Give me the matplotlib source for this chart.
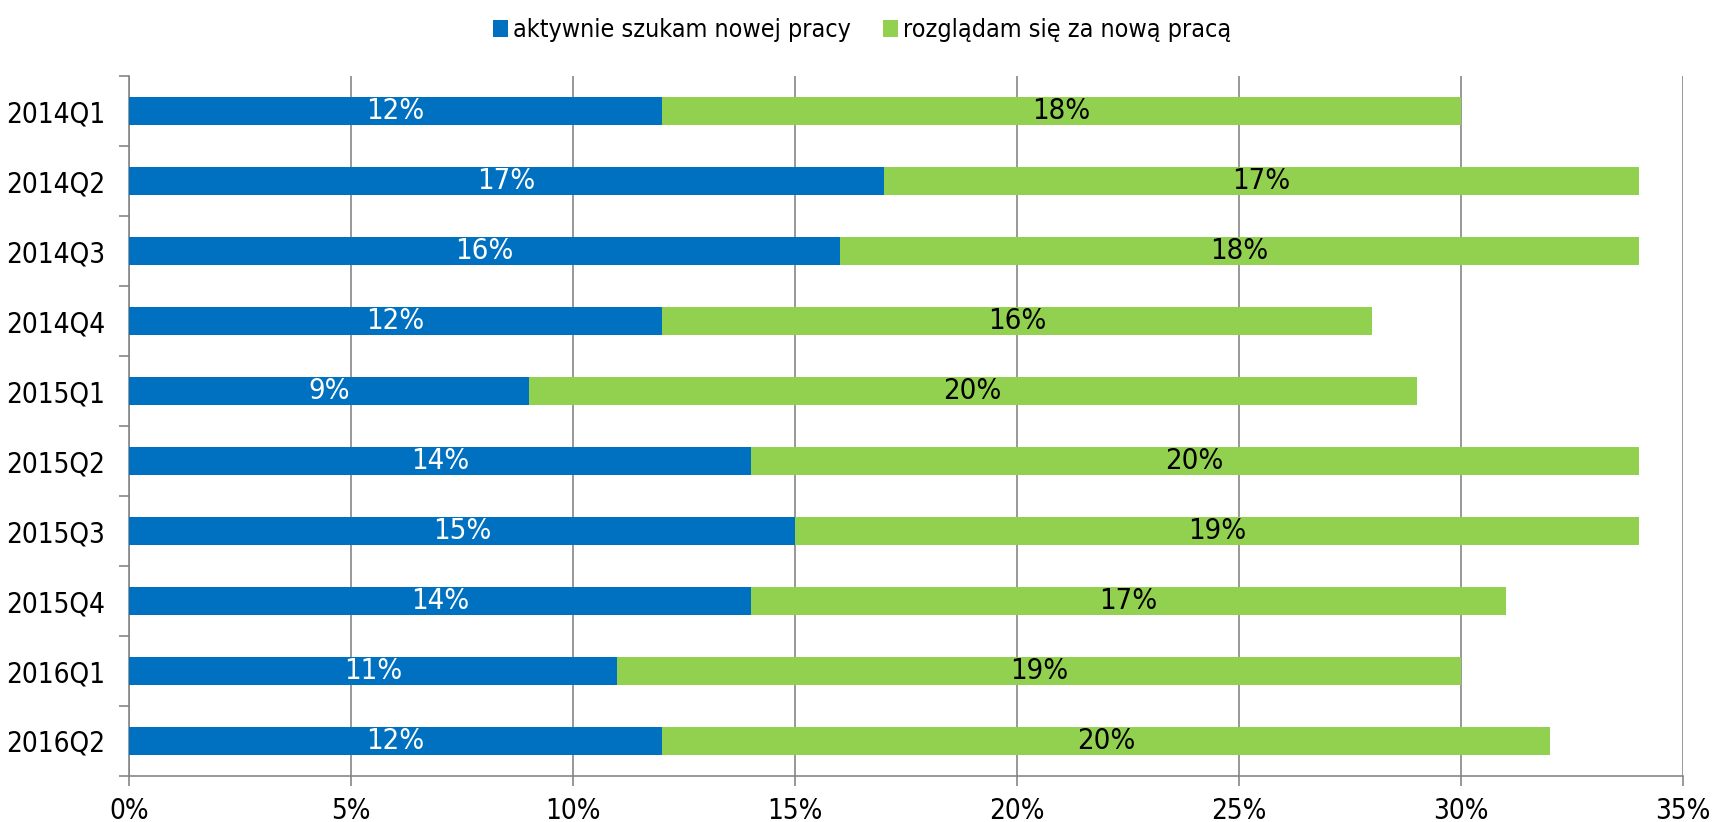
import matplotlib
matplotlib.use('Agg')
import matplotlib.pyplot as plt
import numpy as np
from matplotlib.ticker import PercentFormatter, FixedLocator

# Data
quarters = ['2014Q1', '2014Q2', '2014Q3', '2014Q4', '2015Q1',
            '2015Q2', '2015Q3', '2015Q4', '2016Q1', '2016Q2']
active = [12, 17, 16, 12, 9, 14, 15, 14, 11, 12]
looking = [18, 17, 18, 16, 20, 20, 19, 17, 19, 20]
series_names = ['aktywnie szukam nowej pracy', 'rozglądam się za nową pracą']

blue = '#0070C0'
green = '#92D050'
grid_c = '#868686'

plt.rcParams['font.family'] = ['DejaVu Sans']
plt.rcParams['font.stretch'] = 'condensed'

fig = plt.figure(figsize=(17.14, 8.22), dpi=100)
ax = fig.add_axes([0.0753, 0.056, 0.9067, 0.851])

y = np.arange(len(quarters))
b1 = ax.barh(y, active, height=0.4, color=blue, label=series_names[0], zorder=3)
b2 = ax.barh(y, looking, left=active, height=0.4, color=green, label=series_names[1], zorder=3)

for rect, v in zip(b1, active):
    ax.text(rect.get_x() + rect.get_width() / 2, rect.get_y() + rect.get_height() / 2,
            f'{v}%', ha='center', va='center', color='white', fontsize=21,
            fontstretch='condensed', zorder=4)
for rect, v in zip(b2, looking):
    ax.text(rect.get_x() + rect.get_width() / 2, rect.get_y() + rect.get_height() / 2,
            f'{v}%', ha='center', va='center', color='black', fontsize=21,
            fontstretch='condensed', zorder=4)

ax.set_xlim(0, 35)
ax.set_ylim(len(quarters) - 0.5, -0.5)
ax.set_xticks(np.arange(0, 36, 5))
ax.xaxis.set_major_formatter(PercentFormatter(decimals=0))
ax.set_yticks(y)
ax.set_yticklabels(quarters)
ax.yaxis.set_minor_locator(FixedLocator(np.arange(-0.5, len(quarters), 1)))
ax.tick_params(axis='y', which='major', length=0, pad=17, labelsize=20)
ax.tick_params(axis='y', which='minor', length=7, color=grid_c, width=1.2)
ax.tick_params(axis='x', which='major', length=7, color=grid_c, width=1.2, pad=8, labelsize=20)
for lab in ax.get_xticklabels() + ax.get_yticklabels():
    lab.set_fontstretch('condensed')

ax.grid(axis='x', color=grid_c, linewidth=1.2, zorder=0)
for s in ['top', 'right']:
    ax.spines[s].set_visible(False)
for s in ['left', 'bottom']:
    ax.spines[s].set_color(grid_c)
    ax.spines[s].set_linewidth(1.2)

fig.legend(loc='upper center', bbox_to_anchor=(0.503, 1.005), ncol=2, frameon=False,
           prop={'size': 18, 'stretch': 'condensed'}, handlelength=0.6, handleheight=0.7,
           handletextpad=0.2, columnspacing=1.3)

fig.savefig('out.png', dpi=100)
